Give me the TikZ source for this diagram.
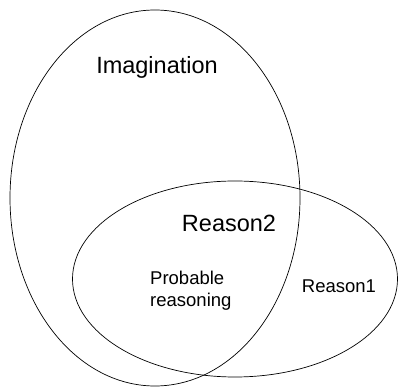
\documentclass[tikz,border=0pt]{standalone}
\usepackage{fontspec}
\setmainfont{Liberation Sans}
\usepackage{tikz}
\usetikzlibrary{shapes.geometric}

\begin{document}
\begin{tikzpicture}[
  x=1pt, y=1pt,
  set/.style={draw=black, ellipse, line width=0.7pt, inner sep=0pt},
  biglabel/.style={font=\fontsize{23.5}{27}\selectfont, inner sep=0pt},
  smalllabel/.style={font=\fontsize{18.5}{22}\selectfont, inner sep=0pt, align=left}
]
\useasboundingbox (0,0) rectangle (399,388);
\node[set, minimum width=290, minimum height=376] (imag) at (155,190) {};
\node[set, minimum width=325, minimum height=196] (reason) at (235,109) {};
\node[biglabel] (imaglabel) at (157,321) {Imagination};
\node[biglabel] (r2label) at (229,165) {Reason2};
\node[smalllabel, anchor=west] (prob) at (150,97) {Probable\\reasoning};
\node[smalllabel] (r1label) at (339,102) {Reason1};
\end{tikzpicture}
\end{document}
